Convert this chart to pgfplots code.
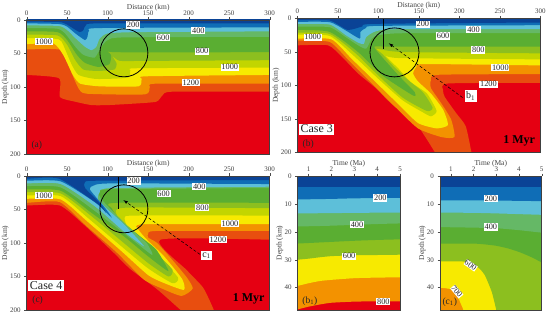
\documentclass[border=0pt]{standalone}
\usepackage{pgfplots}
\pgfplotsset{compat=1.18}
\usepackage{fontspec}
\setmainfont{Liberation Serif}
\definecolor{c1}{HTML}{0A4396}
\definecolor{c2}{HTML}{0F6DB6}
\definecolor{c3}{HTML}{5DBFD9}
\definecolor{c4}{HTML}{65B866}
\definecolor{c5}{HTML}{5AAE32}
\definecolor{c6}{HTML}{8CBF1F}
\definecolor{c7}{HTML}{C2D500}
\definecolor{c8}{HTML}{F7EA00}
\definecolor{c9}{HTML}{F39200}
\definecolor{c10}{HTML}{E84E0F}
\definecolor{c11}{HTML}{E50012}
\pgfplotsset{
  panel/.style={scale only axis, y dir=reverse, axis on top, anchor=south west,
    tick align=outside, major tick length=2.5pt, axis line style={line width=0.5pt,black!75},
    tick style={line width=0.4pt,black!70},
    xtick pos=top, xticklabel pos=top, ytick pos=left,
    /pgf/number format/assume math mode=true,
    tick label style={font=\fontsize{7}{8}\selectfont, text=black!75},
    xticklabel style={yshift=-1.5pt},
    label style={font=\fontsize{7.5}{8}\selectfont, text=black!75},
    xlabel style={yshift=-7pt}, ylabel style={yshift=-5.5pt},
    every axis plot/.append style={draw=none, no markers, line join=round, smooth, tension=0.35}},
  dist/.style={panel, width=243pt, height=134pt, xmin=0, xmax=300, ymin=0, ymax=200,
    xtick={0,50,...,300}, ytick={0,50,...,200}, xlabel={Distance (km)}, ylabel={Depth (km)}},
  tm/.style={panel, height=134pt, xmin=0.52, xmax=5, ymin=0, ymax=48,
    xtick={1,2,3,4,5}, ytick={0,10,20,30,40}, xlabel={Time (Ma)}, ylabel={Depth (km)}},
}
\tikzset{lab/.style={fill=white, inner sep=0.8pt, font=\fontsize{8.3}{9}\selectfont, text=black!85},
  big/.style={fill=white, inner sep=1.5pt, font=\fontsize{12}{13}\selectfont, text=black!85},
  panlab/.style={inner sep=0pt, font=\fontsize{9.5}{10}\selectfont, text=black!85},
  myr/.style={inner sep=0pt, font=\bfseries\fontsize{12}{13}\selectfont}}
\begin{document}
\begin{tikzpicture}[x=1pt,y=1pt]
\path[use as bounding box] (0,0) rectangle (550,316);
% ---------- (a)
\begin{axis}[dist, at={(26.7pt,162pt)}]
\addplot[fill=c11,sharp plot] coordinates {(-9,-9)(309,-9)(309,209)(-9,209)};
\addplot[fill=c10] coordinates {(-20,82)(0,82)(40,87)(41,115)(60,122)(80,127)(100,127)(130,125)(160,122)(168,112)(180,107)(300,107)(320,107)(320,-20)(-20,-20)};
\addplot[fill=c9] coordinates {(-20,44)(0,44)(43,45)(55,78)(64,102)(74,110)(146,111)(152,100)(160,95)(300,95)(320,95)(320,-20)(-20,-20)};
\addplot[fill=c8] coordinates {(-20,36)(0,36)(33,35)(45,52)(57,82)(66,95)(90,99)(138,99)(142,88)(148,84)(300,82)(320,82)(320,-20)(-20,-20)};
\addplot[fill=c7] coordinates {(-20,27)(0,27)(35,28)(43,32)(55,65)(64,82)(86,88)(125,86)(128,75)(136,72)(300,71)(320,71)(320,-20)(-20,-20)};
\addplot[fill=c6] coordinates {(-20,22)(0,22)(38,23)(50,37)(60,60)(70,74)(88,76)(108,74)(111,65)(106,54)(115,61)(148,61)(300,60)(320,60)(320,-20)(-20,-20)};
\addplot[fill=c5] coordinates {(-20,17)(0,17)(38,18)(50,30)(62,52)(72,64)(88,70)(102,66)(104,52)(94,41)(109,48)(300,48)(320,48)(320,-20)(-20,-20)};
\addplot[fill=c4] coordinates {(-20,12)(0,12)(38,13)(48,21)(60,40)(70,52)(84,56)(92,40)(100,30)(120,26)(300,25)(320,25)(320,-20)(-20,-20)};
\addplot[fill=c3] coordinates {(-20,8)(0,8)(40,9)(50,15)(60,27)(72,40)(80,45)(86,40)(90,28)(100,20)(140,18)(300,17)(320,17)(320,-20)(-20,-20)};
\addplot[fill=c2] coordinates {(-20,5)(0,5)(40,6)(50,10)(60,20)(72,30)(75,25)(77,16)(90,12)(300,11)(320,11)(320,-20)(-20,-20)};
\addplot[fill=c1] coordinates {(-20,2.5)(0,2.5)(40,3)(50,7)(65,18)(70,15)(73,8)(90,5)(300,5)(320,5)(320,-20)(-20,-20)};
\draw[line width=0.8pt] (axis cs:120,49) circle[radius=24pt];
\node[lab] at (axis cs:131.5,7.5) {200};
\node[lab] at (axis cs:212,16) {400};
\node[lab] at (axis cs:168.5,26) {600};
\node[lab] at (axis cs:216.6,46.5) {800};
\node[lab] at (axis cs:250.7,70.5) {1000};
\node[lab] at (axis cs:202.6,93.5) {1200};
\node[lab] at (axis cs:21,32.5) {1000};
\node[panlab] at (axis cs:12.5,187) {(a)};
\end{axis}
% ---------- (b)
\begin{axis}[dist, at={(297.3pt,163.5pt)}]
\addplot[fill=c11,sharp plot] coordinates {(-9,-9)(309,-9)(309,209)(-9,209)};
\addplot[fill=c10] coordinates {(-20,40)(0,40)(38,40)(55,57)(75,82)(96,103)(116,127)(145,154)(170,200)(172,210)(216,210)(215,200)(208,161)(196,141)(182,117)(180,107)(186,97)(300,96)(320,96)(320,-20)(-20,-20)};
\addplot[fill=c9] coordinates {(-20,33)(0,33)(40,35)(63,62)(92,97)(120,131)(149,164)(178,177)(194,177)(190,151)(178,127)(165,104)(165,92)(174,84)(300,83)(320,83)(320,-20)(-20,-20)};
\addplot[fill=c8] coordinates {(-20,30)(0,30)(42,31)(67,60)(96,94)(124,127)(149,156)(172,164)(186,159)(180,136)(165,112)(149,94)(143,82)(147,72)(157,68)(300,70)(320,70)(320,-20)(-20,-20)};
\addplot[fill=c7] coordinates {(-20,24)(0,24)(40,26)(70,56)(100,90)(130,122)(155,140)(165,146)(172,138)(160,112)(140,95)(125,75)(108,54)(125,59)(300,61)(320,61)(320,-20)(-20,-20)};
\addplot[fill=c6] coordinates {(-20,21)(0,21)(40,23)(72,52)(100,85)(130,118)(160,138)(167,133)(155,110)(135,90)(118,70)(105,53)(98,45)(130,50)(300,52)(320,52)(320,-20)(-20,-20)};
\addplot[fill=c5] coordinates {(-20,17)(0,17)(40,20)(75,50)(105,85)(143,115)(145,110)(125,85)(105,58)(95,42)(115,42)(300,42)(320,42)(320,-20)(-20,-20)};
\addplot[fill=c4] coordinates {(-20,12)(0,12)(40,13)(60,28)(75,40)(85,45)(92,30)(100,25)(130,22)(300,22)(320,22)(320,-20)(-20,-20)};
\addplot[fill=c3] coordinates {(-20,8)(0,8)(40,9)(60,25)(75,36)(82,38)(85,28)(95,20)(120,16)(300,16)(320,16)(320,-20)(-20,-20)};
\addplot[fill=c2] coordinates {(-20,5)(0,5)(40,5.5)(60,18)(77,30)(78,20)(85,14)(100,11)(300,10)(320,10)(320,-20)(-20,-20)};
\addplot[fill=c1] coordinates {(-20,2.5)(0,2.5)(40,3)(62,17)(80,12)(95,8)(300,6)(320,6)(320,-20)(-20,-20)};
\draw[line width=0.8pt] (axis cs:120,50.6) circle[radius=24.5pt];
\draw[line width=1.1pt] (axis cs:106,0) -- (axis cs:106,45);
\draw[line width=0.5pt, dash pattern=on 3pt off 2pt, -latex] (axis cs:204,118) -- (axis cs:113,37);
\node[lab] at (axis cs:155,8.4) {200};
\node[lab] at (axis cs:217.5,16.4) {400};
\node[lab] at (axis cs:180,26) {600};
\node[lab] at (axis cs:223.6,47) {800};
\node[lab] at (axis cs:250.7,73.4) {1000};
\node[lab] at (axis cs:236,98) {1200};
\node[lab] at (axis cs:19,28) {1000};
\node[big, font=\fontsize{10}{11}\selectfont] at (axis cs:214,116) {b$_{\mathrm 1}$};
\node[big] at (axis cs:24,165) {Case 3};
\node[panlab] at (axis cs:13.5,187) {(b)};
\node[myr] at (axis cs:274,183) {1 Myr};
\end{axis}
% ---------- (c)
\begin{axis}[dist, at={(26.7pt,6pt)}]
\addplot[fill=c11,sharp plot] coordinates {(-9,-9)(309,-9)(309,209)(-9,209)};
\addplot[fill=c10] coordinates {(-20,44)(0,44)(41,44)(70,72)(107,114)(128,139)(161,169)(190,200)(200,210)(232,210)(231,200)(218,167)(198,141)(165,95)(300,95)(320,95)(320,-20)(-20,-20)};
\addplot[fill=c9] coordinates {(-20,40)(0,40)(41,39)(74,75)(111,114)(144,154)(165,167)(191,179)(205,168)(198,152)(181,127)(161,100)(150,92)(150,86)(161,82)(300,82)(320,82)(320,-20)(-20,-20)};
\addplot[fill=c8] coordinates {(-20,34)(0,34)(42,35)(75,68)(115,110)(150,148)(170,160)(194,170)(192,154)(169,119)(150,97)(138,80)(144,72)(300,72)(320,72)(320,-20)(-20,-20)};
\addplot[fill=c7] coordinates {(-20,29)(0,29)(42,30)(75,62)(115,103)(150,138)(180,160)(187,152)(165,122)(140,95)(125,78)(121,62)(135,59)(300,59)(320,59)(320,-20)(-20,-20)};
\addplot[fill=c6] coordinates {(-20,24)(0,24)(42,26)(78,58)(118,98)(150,130)(175,150)(180,140)(160,115)(140,95)(120,78)(110,52)(130,47)(300,48)(320,48)(320,-20)(-20,-20)};
\addplot[fill=c5] coordinates {(-20,20)(0,20)(42,22)(80,55)(120,90)(150,120)(175,142)(160,110)(140,90)(115,65)(105,48)(110,40)(300,40)(320,40)(320,-20)(-20,-20)};
\addplot[fill=c4] coordinates {(-20,15)(0,15)(42,17)(85,53)(125,90)(155,118)(148,100)(125,75)(100,45)(90,30)(100,20)(300,18)(320,18)(320,-20)(-20,-20)};
\addplot[fill=c3] coordinates {(-20,11)(0,11)(42,12)(85,46)(122,85)(145,105)(120,72)(100,50)(88,35)(90,25)(105,18)(300,16)(320,16)(320,-20)(-20,-20)};
\addplot[fill=c2] coordinates {(-20,7)(0,7)(42,8)(85,40)(105,62)(95,45)(78,20)(85,13)(110,11)(300,12)(320,12)(320,-20)(-20,-20)};
\addplot[fill=c1] coordinates {(-20,4)(0,4)(40,4)(88,42)(98,55)(90,40)(72,18)(72,9)(90,7)(300,6)(320,6)(320,-20)(-20,-20)};
\draw[line width=0.8pt] (axis cs:120,49) circle[radius=24pt];
\draw[line width=1.1pt] (axis cs:113,0) -- (axis cs:113,49);
\draw[line width=0.5pt, dash pattern=on 3pt off 2pt, -latex] (axis cs:214,117) -- (axis cs:119.5,36);
\node[lab] at (axis cs:132,7.5) {200};
\node[lab] at (axis cs:213,16) {400};
\node[lab] at (axis cs:169,26) {600};
\node[lab] at (axis cs:217,47) {800};
\node[lab] at (axis cs:251,71) {1000};
\node[lab] at (axis cs:236,94.5) {1200};
\node[lab] at (axis cs:21,29) {1000};
\node[big, font=\fontsize{10}{11}\selectfont] at (axis cs:222,118.5) {c$_{\mathrm 1}$};
\node[big] at (axis cs:24,164) {Case 4};
\node[panlab] at (axis cs:13.5,186) {(c)};
\node[myr] at (axis cs:274,183) {1 Myr};
\end{axis}
% ---------- (b1)
\begin{axis}[tm, width=102.3pt, at={(297.7pt,6pt)}]
\addplot[fill=c11,sharp plot] coordinates {(0,-1)(6,-1)(6,50)(0,50)};
\addplot[fill=c9] coordinates {(0,48.4)(0.5,47.8)(1,46.8)(1.5,46)(2,45.4)(3,45)(4,44.9)(5,44.9)(6,44.9)(6,-2)(0,-2)};
\addplot[fill=c8] coordinates {(0,40.4)(0.5,39.4)(1,38.4)(1.5,37.6)(2,37.2)(3,36.6)(4,36.4)(5,36.3)(6,36.3)(6,-2)(0,-2)};
\addplot[fill=c6] coordinates {(0,30.4)(0.5,30)(1,29.6)(1.5,29.1)(2,28.7)(3,28.4)(4,28.3)(5,28.2)(6,28.2)(6,-2)(0,-2)};
\addplot[fill=c5] coordinates {(0,24.4)(0.5,24.2)(1,24)(2,23.6)(3,23.2)(4,22.9)(5,22.7)(6,22.7)(6,-2)(0,-2)};
\addplot[fill=c4] coordinates {(0,18)(0.5,18)(1,18)(2,17.8)(3,17.5)(4,17.2)(5,17)(6,17)(6,-2)(0,-2)};
\addplot[fill=c3] coordinates {(0,13.4)(0.5,13.4)(2,13.3)(3,13.2)(5,13.1)(6,13.1)(6,-2)(0,-2)};
\addplot[fill=c2] coordinates {(0,8.4)(0.5,8.4)(2,8.2)(3,8)(5,7.8)(6,7.8)(6,-2)(0,-2)};
\addplot[fill=c1,sharp plot] coordinates {(0,4)(6,4)(6,-2)(0,-2)};
\node[lab] at (axis cs:4.14,7.9) {200};
\node[lab] at (axis cs:3.12,17.3) {400};
\node[lab] at (axis cs:2.77,28.7) {600};
\node[lab] at (axis cs:4.27,45) {800};
\node[panlab] at (axis cs:1.05,44.8) {(b$_{\mathrm 1}$)};
\end{axis}
% ---------- (c1)
\begin{axis}[tm, width=101.7pt, at={(440pt,6pt)}]
\addplot[fill=c9,sharp plot] coordinates {(0,-1)(6,-1)(6,50)(0,50)};
\addplot[fill=c8] coordinates {(0,40)(0.5,40)(1,40.6)(1.3,43.3)(1.45,46)(1.55,48)(1.6,52)(6,52)(6,-2)(0,-2)};
\addplot[fill=c6] coordinates {(0,30.6)(0.5,30.6)(1,30.6)(1.5,30.6)(1.8,30.9)(2,31.4)(2.3,33.5)(2.5,35.6)(2.8,41.5)(3,48)(3.1,52)(6,52)(6,-2)(0,-2)};
\addplot[fill=c5] coordinates {(0,24.2)(0.5,24.2)(1,24.2)(2,24.2)(2.5,24.5)(3,25)(3.5,25.9)(4,27.2)(4.5,28.9)(5,31)(6,36)(6,-2)(0,-2)};
\addplot[fill=c4] coordinates {(0,18.3)(0.5,18.3)(2,18.5)(3,18.7)(4,19.4)(5,20.3)(6,21)(6,-2)(0,-2)};
\addplot[fill=c3] coordinates {(0,13.1)(0.5,13.1)(2,13.2)(3,13.4)(5,13.9)(6,14)(6,-2)(0,-2)};
\addplot[fill=c2] coordinates {(0,8.7)(0.5,8.7)(3,8.8)(5,9)(6,9)(6,-2)(0,-2)};
\addplot[fill=c1,sharp plot] coordinates {(0,4)(6,4)(6,-2)(0,-2)};
\node[lab] at (axis cs:2.76,8.2) {200};
\node[lab] at (axis cs:2.76,18.3) {400};
\node[lab, rotate=-35, inner sep=0.3pt] at (axis cs:1.87,32) {600};
\node[lab, rotate=-50, inner sep=0.3pt] at (axis cs:1.26,41.4) {700};
\node[panlab] at (axis cs:0.95,45.2) {(c$_{\mathrm 1}$)};
\end{axis}
\end{tikzpicture}
\end{document}
